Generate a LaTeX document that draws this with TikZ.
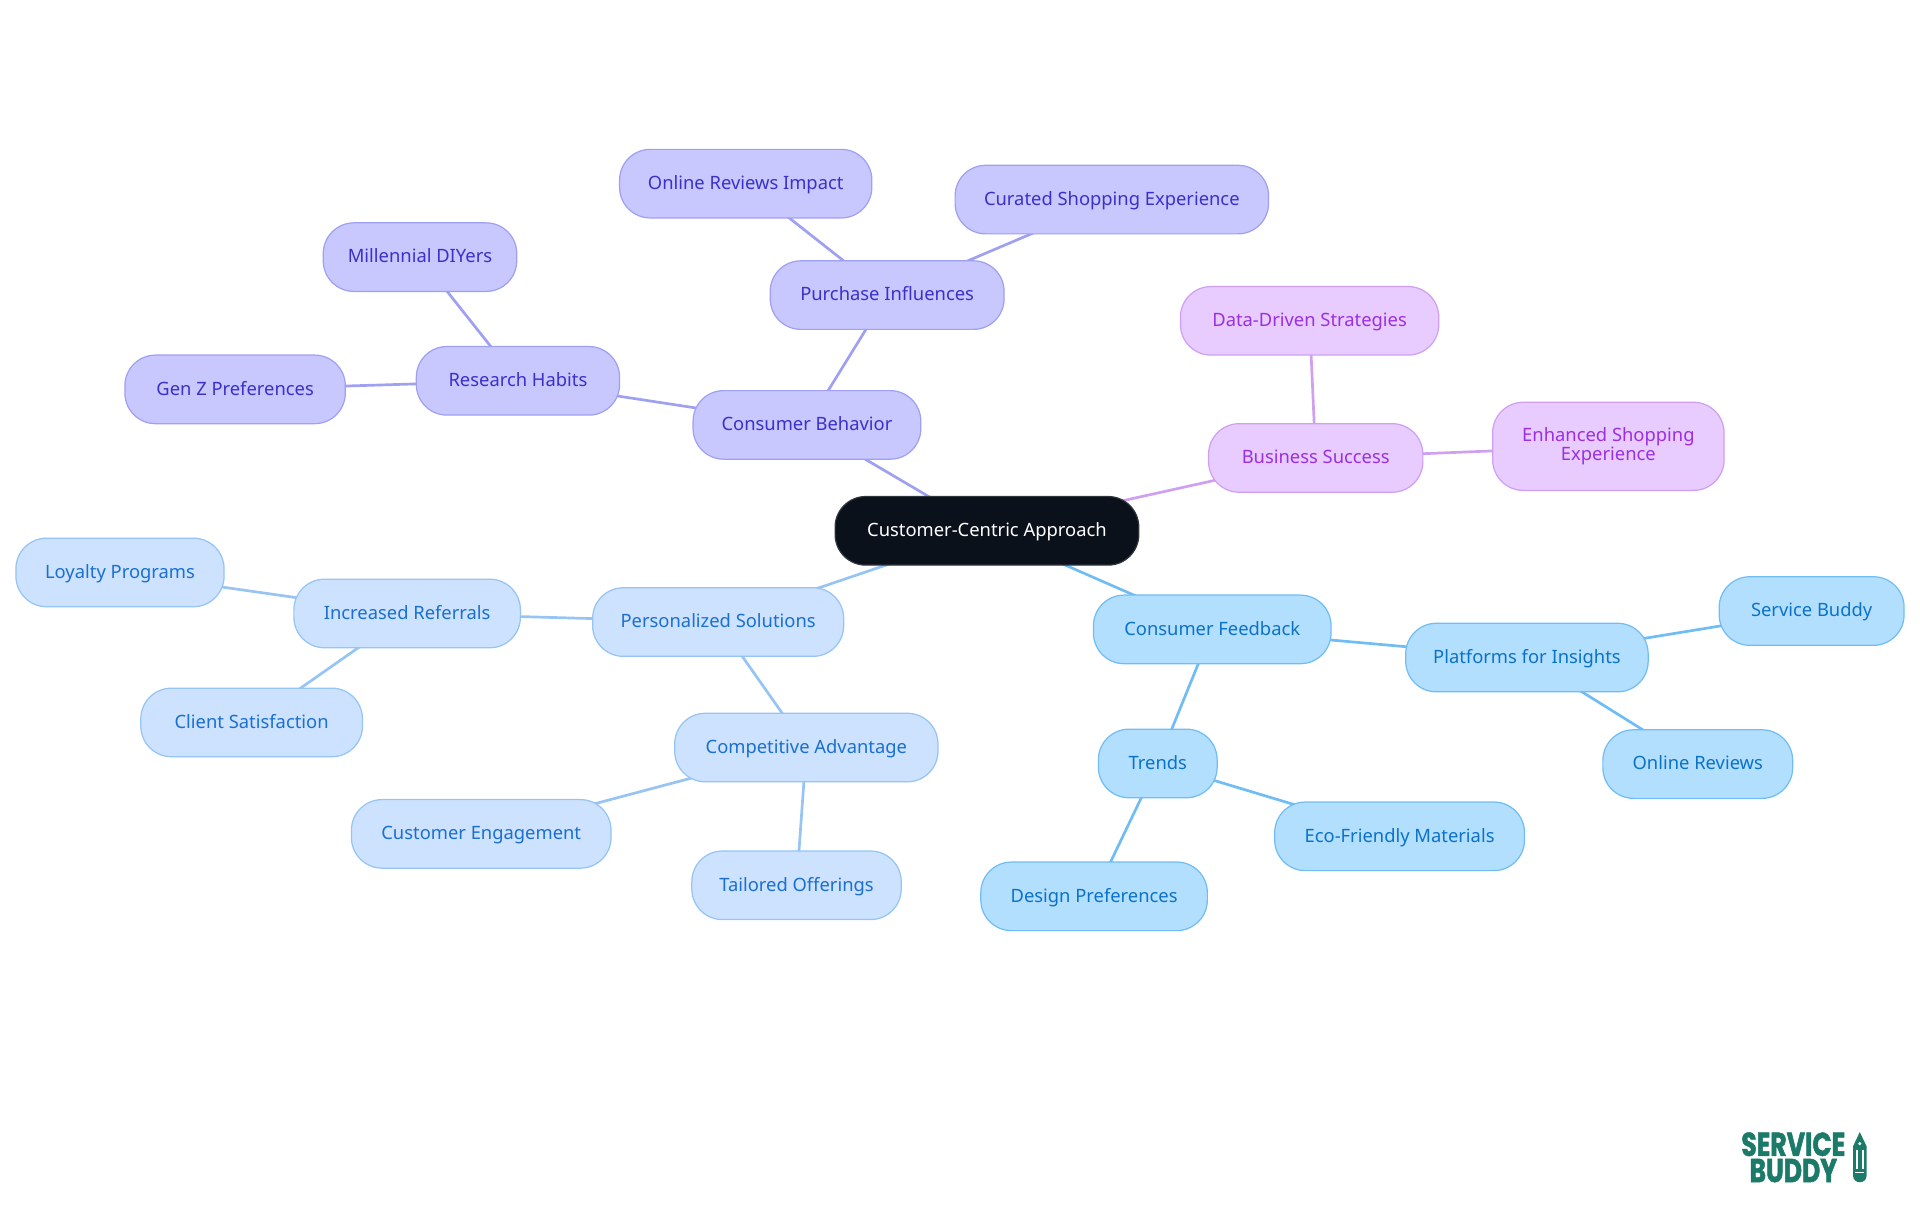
\documentclass[tikz,border=0pt]{standalone}
\usepackage{fontspec}
\setmainfont{Noto Sans}
\newfontfamily\logofont{Poppins}[FakeStretch=0.76,FakeBold=1.5]
\usetikzlibrary{backgrounds}
\definecolor{rootfill}{HTML}{0B111A}
\definecolor{violetfill}{HTML}{C8C8FF}
\definecolor{violetline}{HTML}{A0A0F2}
\definecolor{violettext}{HTML}{3B30C8}
\definecolor{pinkfill}{HTML}{E8CBFF}
\definecolor{pinkline}{HTML}{CFA0F2}
\definecolor{pinktext}{HTML}{9B30E0}
\definecolor{paleblfill}{HTML}{CCE2FF}
\definecolor{paleblline}{HTML}{95C4F5}
\definecolor{palebltext}{HTML}{1A6FD0}
\definecolor{skyfill}{HTML}{B3DFFF}
\definecolor{skyline}{HTML}{70BDF5}
\definecolor{skytext}{HTML}{0B72C8}
\definecolor{logogreen}{HTML}{1B7A68}
\tikzset{
	topicbox/.style={rounded corners=25pt,line width=1pt,minimum height=56pt,inner sep=0pt,align=center,text height=12pt,text depth=2.5pt,font=\fontsize{15}{16}\selectfont},
	rootbox/.style={topicbox,fill=rootfill,draw=rootfill!85!white,text=white},
	violetbox/.style={topicbox,fill=violetfill,draw=violetline,text=violettext},
	pinkbox/.style={topicbox,fill=pinkfill,draw=pinkline,text=pinktext},
	palebox/.style={topicbox,fill=paleblfill,draw=paleblline,text=palebltext},
	skybox/.style={topicbox,fill=skyfill,draw=skyline,text=skytext},
	violetlink/.style={draw=violetline,line width=2.2pt},
	pinklink/.style={draw=pinkline,line width=2.2pt},
	palelink/.style={draw=paleblline,line width=2.2pt},
	skylink/.style={draw=skyline,line width=2.2pt},
	logotext/.style={text=logogreen,inner sep=0pt,font=\logofont\bfseries\fontsize{27}{27}\selectfont}
}
\begin{document}
\begin{tikzpicture}[x=1pt,y=-1pt]
	\useasboundingbox (0,0) rectangle (1568,992);

	% Centre
	\node[rootbox,minimum width=248pt] (root) at (806,433.5) {Customer-Centric Approach};

	% Consumer behavior branch
	\node[violetbox,minimum width=186pt] (behavior) at (659,347) {Consumer Behavior};
	\node[violetbox,minimum width=166pt] (habits) at (423,311) {Research Habits};
	\node[violetbox,minimum width=158pt] (diyers) at (343,210) {Millennial DIYers};
	\node[violetbox,minimum width=180pt] (genz) at (192,318) {Gen Z Preferences};
	\node[violetbox,minimum width=191pt] (influences) at (724.5,241) {Purchase Influences};
	\node[violetbox,minimum width=206pt] (impact) at (609,150) {Online Reviews Impact};
	\node[violetbox,minimum width=256pt] (curated) at (908,163) {Curated Shopping Experience};

	% Business success branch
	\node[pinkbox,minimum width=175pt] (success) at (1074.5,374) {Business Success};
	\node[pinkbox,minimum width=211pt] (datadriven) at (1069.5,262) {Data-Driven Strategies};
	\node[pinkbox,minimum width=189pt,minimum height=72pt,text height=,text depth=] (enhanced) at (1313.5,364.5) {Enhanced Shopping\\Experience};

	% Personalized solutions branch
	\node[palebox,minimum width=205pt] (solutions) at (586.5,508) {Personalized Solutions};
	\node[palebox,minimum width=185pt] (referrals) at (332.5,501) {Increased Referrals};
	\node[palebox,minimum width=170pt] (loyalty) at (98,467.5) {Loyalty Programs};
	\node[palebox,minimum width=181pt] (satisfaction) at (205.5,590) {Client Satisfaction};
	\node[palebox,minimum width=215pt] (advantage) at (658.5,610.5) {Competitive Advantage};
	\node[palebox,minimum width=212pt] (engagement) at (393,681) {Customer Engagement};
	\node[palebox,minimum width=171pt] (offerings) at (650.5,723) {Tailored Offerings};

	% Consumer feedback branch
	\node[skybox,minimum width=194pt] (feedback) at (990,514) {Consumer Feedback};
	\node[skybox,minimum width=198pt] (platforms) at (1247,537) {Platforms for Insights};
	\node[skybox,minimum width=151pt] (buddy) at (1479.5,499) {Service Buddy};
	\node[skybox,minimum width=155pt] (reviews) at (1386.5,624) {Online Reviews};
	\node[skybox,minimum width=97pt] (trends) at (945.5,623.5) {Trends};
	\node[skybox,minimum width=204pt] (materials) at (1143,683) {Eco-Friendly Materials};
	\node[skybox,minimum width=185pt] (design) at (893.5,732) {Design Preferences};

	% Links
	\begin{scope}[on background layer]
		\draw[violetlink] (root.center) -- (behavior.center);
		\draw[violetlink] (behavior.center) -- (habits.center);
		\draw[violetlink] (habits.center) -- (diyers.center);
		\draw[violetlink] (habits.center) -- (genz.center);
		\draw[violetlink] (behavior.center) -- (influences.center);
		\draw[violetlink] (influences.center) -- (impact.center);
		\draw[violetlink] (influences.center) -- (curated.center);
		\draw[pinklink] (root.center) -- (success.center);
		\draw[pinklink] (success.center) -- (datadriven.center);
		\draw[pinklink] (success.center) -- (enhanced.center);
		\draw[palelink] (root.center) -- (solutions.center);
		\draw[palelink] (solutions.center) -- (referrals.center);
		\draw[palelink] (referrals.center) -- (loyalty.center);
		\draw[palelink] (referrals.center) -- (satisfaction.center);
		\draw[palelink] (solutions.center) -- (advantage.center);
		\draw[palelink] (advantage.center) -- (engagement.center);
		\draw[palelink] (advantage.center) -- (offerings.center);
		\draw[skylink] (root.center) -- (feedback.center);
		\draw[skylink] (feedback.center) -- (platforms.center);
		\draw[skylink] (platforms.center) -- (buddy.center);
		\draw[skylink] (platforms.center) -- (reviews.center);
		\draw[skylink] (feedback.center) -- (trends.center);
		\draw[skylink] (trends.center) -- (materials.center);
		\draw[skylink] (trends.center) -- (design.center);
	\end{scope}

	% Logo
	\node[logotext] (logoservice) at (1464.5,934.5) {SERVICE};
	\node[logotext] (logobuddy) at (1464.5,956) {BUDDY};
	\fill[logogreen] (1518.8,924.5) -- (1524.3,936) -- (1524.3,960.5) arc (0:180:5.45 and 5) -- (1513.4,936) -- cycle;
	\fill[white] (1518.8,934) circle (1.4pt);
	\fill[white] (1515.7,939) rectangle (1517.2,955);
	\fill[white] (1520.4,939) rectangle (1521.9,955);
	\fill[white] (1515,957) rectangle (1522.6,958.2);
\end{tikzpicture}
\end{document}
